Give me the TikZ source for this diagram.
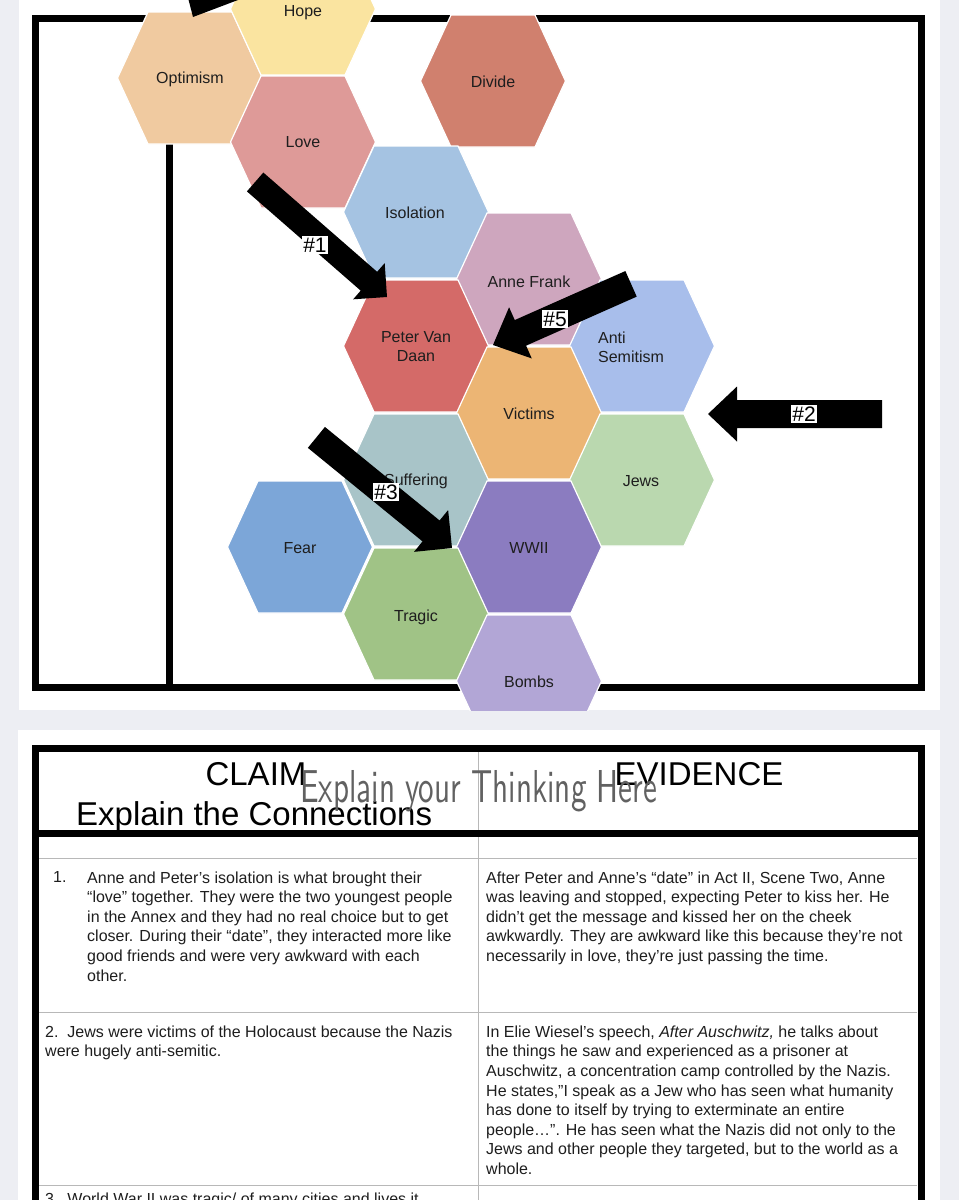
\documentclass[tikz,border=0pt]{standalone}
\usepackage{fontspec}
\setmainfont{Liberation Sans}
\usepackage{graphicx}
\definecolor{bgcol}{RGB}{237,238,243}
\definecolor{cHope}{RGB}{250,228,160}
\definecolor{cOptimism}{RGB}{240,202,160}
\definecolor{cLove}{RGB}{222,154,152}
\definecolor{cDivide}{RGB}{208,128,110}
\definecolor{cIsolation}{RGB}{165,195,226}
\definecolor{cAnne}{RGB}{206,166,190}
\definecolor{cPeter}{RGB}{212,106,104}
\definecolor{cAnti}{RGB}{168,190,235}
\definecolor{cVictims}{RGB}{236,181,116}
\definecolor{cSuffering}{RGB}{168,196,200}
\definecolor{cJews}{RGB}{186,216,175}
\definecolor{cFear}{RGB}{124,166,216}
\definecolor{cWWII}{RGB}{139,124,192}
\definecolor{cTragic}{RGB}{160,195,134}
\definecolor{cBombs}{RGB}{178,166,214}
\definecolor{txt}{RGB}{30,30,30}
\newcommand\hexcell[3]{% x, y, colour
  \fill[#3, draw=white, line width=1.2pt, shift={(#1,#2)}]
    (-72.5,0) -- (-42,-66) -- (42,-66) -- (72.5,0) -- (42,66) -- (-42,66) -- cycle;}
\newcommand\blockarrowat[7]{% tipx, tipy, rotation, length, shaft half, head half, head length
  \fill[black, shift={(#1,#2)}, rotate=#3]
    (0,0) -- (-#7,#6) -- (-#7,#5) -- (-#4,#5) -- (-#4,-#5) -- (-#7,-#5) -- (-#7,-#6) -- cycle;}
\begin{document}
\begin{tikzpicture}[x=1pt,y=-1pt,
  hexlabel/.style={font=\fontsize{16}{19}\selectfont, text=txt, align=center, inner sep=0pt},
  tag/.style={fill=white, inner sep=1.5pt, text=black, font=\fontsize{21}{21}\selectfont},
  body/.style={anchor=north west, inner sep=0pt, align=left, text=txt, font=\fontsize{16}{19.6}\selectfont},
  headtext/.style={inner sep=0pt, text=black, font=\fontsize{33}{33}\selectfont},
  thickrule/.style={line width=7pt, black},
  thinrule/.style={line width=1pt, black!28}]
\useasboundingbox (0,0) rectangle (959,1200);
\fill[bgcol] (0,0) rectangle (959,1200);
\fill[white] (19,0) rectangle (940,710);
\fill[white] (18,730) rectangle (940,1200);

\begin{scope}
\clip (19,0) rectangle (940,710);
% black frame
\draw[thickrule] (35.5,18.5) rectangle (921,687.5);
\draw[thickrule] (169.5,18.5) -- (169.5,687.5);
% hexagons
\hexcell{190}{78}{cOptimism}
\hexcell{303}{9}{cHope}
\hexcell{303}{142}{cLove}
\hexcell{493}{81}{cDivide}
\hexcell{416}{212}{cIsolation}
\hexcell{529}{279}{cAnne}
\hexcell{416}{346}{cPeter}
\hexcell{642}{346}{cAnti}
\hexcell{529}{413}{cVictims}
\hexcell{416}{480}{cSuffering}
\hexcell{642}{480}{cJews}
\hexcell{300}{547}{cFear}
\hexcell{529}{547}{cWWII}
\hexcell{416}{614}{cTragic}
\hexcell{529}{681}{cBombs}
% labels
\node[hexlabel] (optimism) at (190,79) {Optimism};
\node[hexlabel] (hope) at (303,13) {Hope};
\node[hexlabel] (love) at (303,142) {Love};
\node[hexlabel] (divide) at (493,82) {Divide};
\node[hexlabel] (isolation) at (415,213) {Isolation};
\node[hexlabel] (anne) at (529,282) {Anne Frank};
\node[hexlabel] (peter) at (416,347) {Peter Van\\Daan};
\node[hexlabel, align=left] (anti) at (631,347) {Anti\\Semitism};
\node[hexlabel] (victims) at (529,414) {Victims};
\node[hexlabel] (suffering) at (416,481) {Suffering};
\node[hexlabel] (jews) at (641,481) {Jews};
\node[hexlabel] (fear) at (300,548) {Fear};
\node[hexlabel] (wwii) at (529,548) {WWII};
\node[hexlabel] (tragic) at (416,617) {Tragic};
\node[hexlabel] (bombs) at (529,682) {Bombs};
% arrows
\fill[black] (186,-10) -- (193,17) -- (238,0) -- (238,-10) -- cycle;
\blockarrowat{387}{297}{-41.1}{175}{12.5}{24}{24}
\blockarrowat{452}{548}{-39.2}{175}{13.5}{27}{27}
\blockarrowat{493}{345}{-156.1}{151}{14}{28}{30}
\blockarrowat{708}{414}{180}{174}{14}{27.5}{29}
\node[tag] (tag1) at (315,245) {\#1};
\node[tag] (tag5) at (555,319) {\#5};
\node[tag] (tag2) at (804,414) {\#2};
\node[tag] (tag3) at (386,492) {\#3};
\end{scope}

% ---------- table ----------
\draw[thinrule] (478,752) -- (478,1200);
\draw[thinrule] (39,858) -- (917,858);
\draw[thinrule] (39,1012) -- (917,1012);
\draw[thinrule] (39,1185) -- (917,1185);
\draw[thickrule] (35.5,1200) -- (35.5,748.5) -- (921,748.5) -- (921,1200);
\draw[thickrule] (32,833.5) -- (924.5,833.5);

\node[headtext, anchor=base] (claim) at (256,785) {CLAIM};
\node[headtext, anchor=base] (evidence) at (699,785) {EVIDENCE};
\node[headtext, anchor=base west] (connections) at (76,825) {Explain the Connections};
\node[anchor=base west, inner sep=0pt, text=black!62] (thinking) at (300,802)
  {\resizebox{357pt}{32pt}{\sffamily Explain your Thinking Here}};

\node[body] (c1num) at (53,871.3) {1.};
\node[body] (c1) at (87,871.3) {Anne and Peter’s isolation is what brought their\\
“love” together. They were the two youngest people\\
in the Annex and they had no real choice but to get\\
closer. During their “date”, they interacted more like\\
good friends and were very awkward with each\\
other.};
\node[body] (e1) at (486,871.3) {After Peter and Anne’s “date” in Act II, Scene Two, Anne\\
was leaving and stopped, expecting Peter to kiss her. He\\
didn’t get the message and kissed her on the cheek\\
awkwardly. They are awkward like this because they’re not\\
necessarily in love, they’re just passing the time.};
\node[body] (c2) at (45,1025.5) {2.\ \ Jews were victims of the Holocaust because the Nazis\\
were hugely anti-semitic.};
\node[body] (e2) at (486,1025.5) {In Elie Wiesel’s speech, \textit{After Auschwitz,} he talks about\\
the things he saw and experienced as a prisoner at\\
Auschwitz, a concentration camp controlled by the Nazis.\\
He states,”I speak as a Jew who has seen what humanity\\
has done to itself by trying to exterminate an entire\\
people…”. He has seen what the Nazis did not only to the\\
Jews and other people they targeted, but to the world as a\\
whole.};
\node[body] (c3) at (45,1193) {3.\ \ World War II was tragic/ of many cities and lives it};
\end{tikzpicture}
\end{document}
